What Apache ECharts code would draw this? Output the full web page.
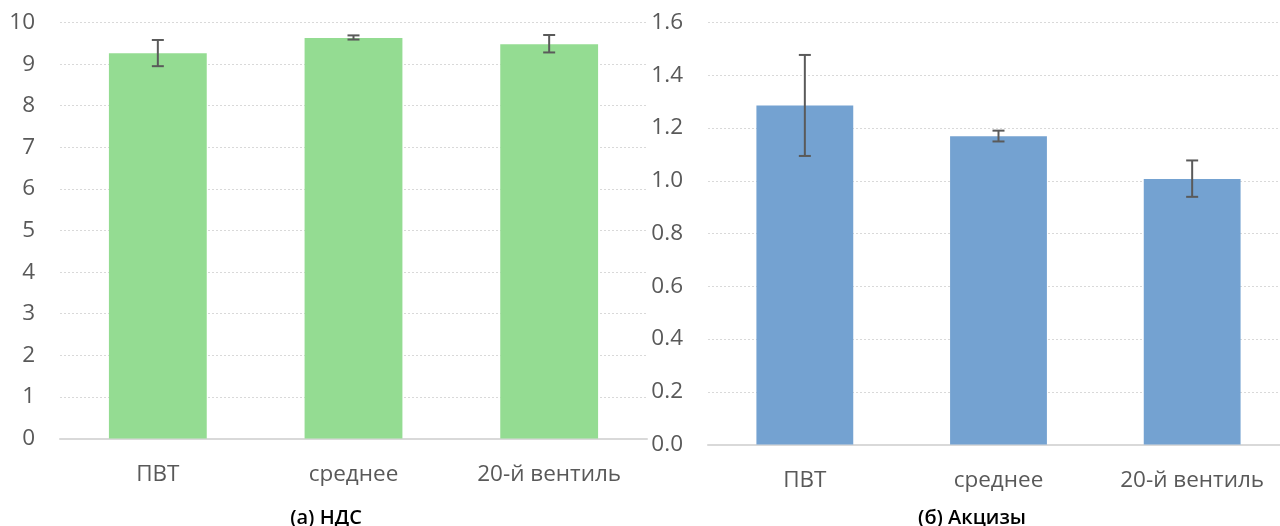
<!DOCTYPE html>
<html>
<head>
<meta charset="utf-8">
<script src="https://cdn.jsdelivr.net/npm/echarts@6/dist/echarts.min.js"></script>
<style>
html,body{margin:0;padding:0;background:#fff;}
#chart{width:1280px;height:526px;}
</style>
</head>
<body>
<div id="chart"></div>
<script>
// ---- data ----
const categories = ['ПВТ', 'среднее', '20-й вентиль'];

const vatValues = [9.26, 9.63, 9.48];
const vatErrHigh = [9.58, 9.69, 9.70];
const vatErrLow = [8.95, 9.59, 9.28];

const exciseValues = [1.285, 1.169, 1.007];
const exciseErrHigh = [1.477, 1.190, 1.077];
const exciseErrLow = [1.094, 1.149, 0.939];

const vatTicks = {min: 0, max: 10, interval: 1};
const exciseTicks = {min: 0, max: 1.6, interval: 0.2};

const captions = ['(а) НДС', '(б) Акцизы'];

// ---- chart ----
const chart = echarts.init(document.getElementById('chart'), null, {renderer: 'canvas'});
const FONT = '"Open Sans", "Noto Sans", sans-serif';
const labelColor = '#595959';

function errData(hi, lo) {
  return hi.map((h, i) => [i, h, lo[i]]);
}

function errRender(params, api) {
  const i = api.value(0);
  const top = api.coord([i, api.value(1)]);
  const bot = api.coord([i, api.value(2)]);
  const cap = 6;
  const style = {stroke: '#5a5a5a', lineWidth: 2};
  return {
    type: 'group',
    children: [
      {type: 'line', shape: {x1: top[0], y1: top[1], x2: bot[0], y2: bot[1]}, style: style},
      {type: 'line', shape: {x1: top[0] - cap, y1: top[1], x2: top[0] + cap, y2: top[1]}, style: style},
      {type: 'line', shape: {x1: bot[0] - cap, y1: bot[1], x2: bot[0] + cap, y2: bot[1]}, style: style}
    ]
  };
}

function xAxis(gridIndex) {
  return {
    type: 'category', gridIndex: gridIndex, data: categories,
    axisLine: {lineStyle: {color: '#d9d9d9', width: 2}},
    axisTick: {show: false},
    axisLabel: {color: labelColor, fontSize: 22.5, fontFamily: FONT, margin: 25}
  };
}

function yAxis(gridIndex, t, digits) {
  return {
    type: 'value', gridIndex: gridIndex, min: t.min, max: t.max, interval: t.interval,
    axisLine: {show: false}, axisTick: {show: false},
    splitLine: {lineStyle: {color: '#d9d9d9', type: [2, 2], width: 1}},
    axisLabel: {color: labelColor, fontSize: 22.5, fontFamily: FONT, margin: 25,
      formatter: v => v.toFixed(digits)}
  };
}

const option = {
  animation: false,
  backgroundColor: '#fff',
  title: [
    {text: captions[0], left: 321, top: 503, textAlign: 'center',
      textStyle: {fontSize: 20, fontWeight: 600, color: '#000', fontFamily: FONT}},
    {text: captions[1], left: 967, top: 503, textAlign: 'center',
      textStyle: {fontSize: 20, fontWeight: 600, color: '#000', fontFamily: FONT}}
  ],
  grid: [
    {left: 60, top: 22.5, width: 587, height: 416, outerBoundsMode: 'none'},
    {left: 708, top: 22.5, width: 581, height: 422, outerBoundsMode: 'none'}
  ],
  xAxis: [xAxis(0), xAxis(1)],
  yAxis: [yAxis(0, vatTicks, 0), yAxis(1, exciseTicks, 1)],
  series: [
    {type: 'bar', xAxisIndex: 0, yAxisIndex: 0, data: vatValues, barWidth: '50%',
      itemStyle: {color: '#94DC92'}},
    {type: 'custom', xAxisIndex: 0, yAxisIndex: 0, data: errData(vatErrHigh, vatErrLow),
      renderItem: errRender, z: 10},
    {type: 'bar', xAxisIndex: 1, yAxisIndex: 1, data: exciseValues, barWidth: '50%',
      itemStyle: {color: '#74A2D1'}},
    {type: 'custom', xAxisIndex: 1, yAxisIndex: 1, data: errData(exciseErrHigh, exciseErrLow),
      renderItem: errRender, z: 10}
  ]
};
chart.setOption(option);
</script>
</body>
</html>
